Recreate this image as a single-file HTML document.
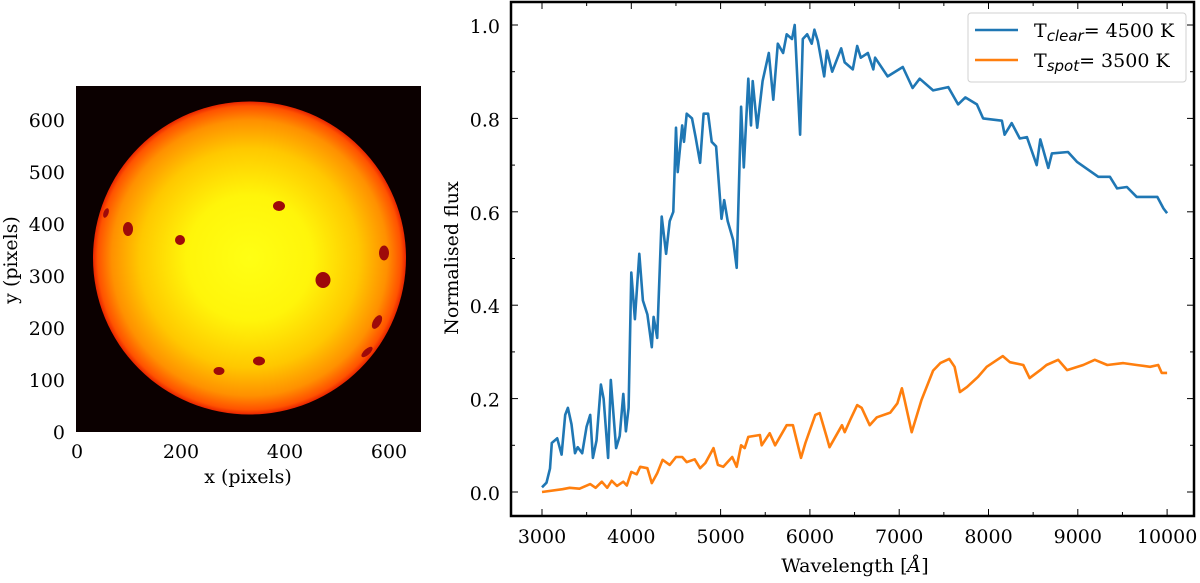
<!DOCTYPE html>
<html><head><meta charset="utf-8"><style>
body{margin:0;background:#fff;width:1200px;height:578px;overflow:hidden}
svg text{font-family:"DejaVu Serif","Liberation Serif",serif;fill:#000}
</style></head><body>
<svg width="1200" height="578" viewBox="0 0 1200 578">
<defs>
<radialGradient id="sun" cx="0.5" cy="0.5" r="0.5">
<stop offset="0" stop-color="#ffff14"/>
<stop offset="0.4" stop-color="#fff50a"/>
<stop offset="0.7" stop-color="#ffc800"/>
<stop offset="0.88" stop-color="#ff9000"/>
<stop offset="0.97" stop-color="#ff5200"/>
<stop offset="1" stop-color="#e82400"/>
</radialGradient>
</defs>
<g>
<rect x="76" y="86" width="345" height="346" fill="#0b0000"/>
<circle cx="249.5" cy="258" r="156.5" fill="url(#sun)"/>
<g fill="#9e0a0a">
<ellipse cx="106" cy="213" rx="2.5" ry="5" transform="rotate(20 106 213)"/>
<ellipse cx="128" cy="229" rx="5" ry="7"/>
<ellipse cx="180" cy="240" rx="5" ry="5"/>
<ellipse cx="279" cy="206" rx="6" ry="5"/>
<ellipse cx="384" cy="253" rx="5" ry="7.5"/>
<ellipse cx="323" cy="280" rx="7.5" ry="8"/>
<ellipse cx="377" cy="322" rx="4" ry="7.5" transform="rotate(30 377 322)"/>
<ellipse cx="367" cy="352" rx="3" ry="7" transform="rotate(48 367 352)"/>
<ellipse cx="259" cy="361" rx="6" ry="4.5"/>
<ellipse cx="219" cy="371" rx="5.5" ry="4"/>
</g>
<g font-size="19" text-anchor="end">
<text x="65" y="439">0</text><text x="65" y="387">100</text><text x="65" y="335">200</text><text x="65" y="283">300</text><text x="65" y="231">400</text><text x="65" y="179">500</text><text x="65" y="127">600</text>
</g>
<g font-size="19" text-anchor="middle">
<text x="77" y="458">0</text><text x="181" y="458">200</text><text x="285" y="458">400</text><text x="389" y="458">600</text>
</g>
<text x="248" y="483" font-size="19" text-anchor="middle">x (pixels)</text>
<text transform="translate(17 260) rotate(-90)" font-size="19" text-anchor="middle">y (pixels)</text>
</g>
<g id="spec">
<text x="855" y="572" font-size="19" text-anchor="middle">Wavelength [<tspan font-style="italic">Å</tspan>]</text>
<text transform="translate(458 258) rotate(-90)" font-size="19" text-anchor="middle">Normalised flux</text>
</g>
</svg>
<script>
const clearWl=[3000,3050,3090,3110,3170,3220,3260,3290,3330,3370,3400,3450,3500,3540,3570,3610,3660,3690,3740,3770,3830,3870,3910,3940,3970,4000,4040,4090,4130,4180,4230,4250,4290,4340,4390,4430,4470,4500,4520,4570,4590,4620,4680,4720,4770,4810,4860,4900,4950,5010,5040,5080,5140,5180,5230,5260,5310,5340,5360,5410,5470,5540,5590,5640,5700,5740,5800,5830,5890,5920,5970,6020,6050,6090,6160,6190,6250,6350,6390,6480,6530,6570,6650,6710,6730,6870,7040,7150,7230,7380,7550,7660,7740,7870,7940,8150,8180,8260,8350,8430,8540,8580,8670,8710,8890,8990,9230,9360,9440,9550,9660,9780,9890,9960,10000];
const clearFlux=[0.01,0.02,0.05,0.105,0.115,0.08,0.165,0.18,0.145,0.083,0.096,0.083,0.14,0.165,0.073,0.11,0.23,0.2,0.073,0.24,0.094,0.12,0.21,0.13,0.18,0.47,0.37,0.51,0.41,0.38,0.31,0.375,0.33,0.59,0.51,0.58,0.6,0.78,0.685,0.785,0.75,0.81,0.8,0.76,0.705,0.81,0.81,0.75,0.74,0.585,0.625,0.58,0.54,0.48,0.825,0.695,0.885,0.785,0.88,0.78,0.88,0.94,0.84,0.96,0.94,0.98,0.97,1.0,0.765,0.97,0.98,0.96,0.99,0.965,0.89,0.945,0.9,0.95,0.92,0.905,0.955,0.93,0.94,0.905,0.93,0.89,0.91,0.865,0.885,0.86,0.867,0.83,0.845,0.83,0.8,0.795,0.765,0.79,0.757,0.76,0.7,0.755,0.694,0.725,0.728,0.707,0.675,0.675,0.65,0.653,0.632,0.632,0.632,0.607,0.597];
const spotWl=[3000,3230,3310,3420,3540,3600,3670,3730,3780,3840,3910,3950,4000,4060,4100,4180,4230,4290,4350,4430,4500,4570,4620,4710,4770,4830,4920,4970,5030,5130,5180,5230,5270,5310,5440,5460,5550,5610,5740,5810,5900,5950,6060,6110,6190,6220,6360,6390,6450,6530,6580,6670,6750,6900,6980,7030,7060,7140,7250,7380,7460,7560,7620,7680,7760,7880,7980,8160,8240,8390,8460,8580,8650,8780,8880,9060,9190,9330,9510,9660,9810,9900,9940,10000];
const spotFlux=[0.0,0.006,0.009,0.007,0.017,0.009,0.022,0.009,0.024,0.013,0.022,0.014,0.043,0.038,0.054,0.051,0.019,0.04,0.069,0.058,0.075,0.075,0.064,0.07,0.051,0.062,0.094,0.058,0.054,0.075,0.054,0.1,0.094,0.118,0.122,0.1,0.126,0.1,0.143,0.143,0.073,0.105,0.165,0.169,0.116,0.096,0.143,0.128,0.154,0.186,0.18,0.143,0.16,0.17,0.19,0.222,0.197,0.128,0.197,0.26,0.276,0.285,0.268,0.214,0.225,0.246,0.268,0.291,0.278,0.272,0.244,0.261,0.272,0.283,0.261,0.272,0.283,0.272,0.276,0.272,0.268,0.272,0.255,0.255];
const xTicks=[3000,4000,5000,6000,7000,8000,9000,10000];
const yTicks=[0.0,0.2,0.4,0.6,0.8,1.0];
const yTickLabels=["0.0","0.2","0.4","0.6","0.8","1.0"];

const NS="http://www.w3.org/2000/svg";
const g=document.getElementById('spec');
const L=511,R=1194,T=2,B=516;
const X=w=>542+(w-3000)*0.0893;
const Y=f=>492-f*467;
function mk(tag,attrs,parent){const e=document.createElementNS(NS,tag);for(const k in attrs)e.setAttribute(k,attrs[k]);(parent||g).appendChild(e);return e;}
const tg=mk('g',{stroke:'#000','stroke-width':1});


for(let w=2500;w<=10500;w+=500){const x=X(w);if(x<L||x>R)continue;const len=(w%1000===0)?7:4;
mk('line',{x1:x,x2:x,y1:B,y2:B-len},tg);mk('line',{x1:x,x2:x,y1:T,y2:T+len},tg);}
for(let i=-1;i<=11;i++){const f=i/10;const y=Y(f);if(y<T||y>B)continue;const len=(i%2===0)?7:4;
mk('line',{x1:L,x2:L+len,y1:y,y2:y},tg);mk('line',{x1:R,x2:R-len,y1:y,y2:y},tg);}
xTicks.forEach(w=>{const t=mk('text',{x:X(w),y:543,'font-size':19,'text-anchor':'middle'});t.textContent=w;

});
yTicks.forEach((f,i)=>{const t=mk('text',{x:500,y:Y(f)+8,'font-size':19,'text-anchor':'end'});t.textContent=yTickLabels[i];

});
function line(ws,fs,color,name){const d=ws.map((w,i)=>(i?'L':'M')+X(w).toFixed(1)+' '+Y(fs[i]).toFixed(1)).join(' ');
const p=mk('path',{d:d,fill:'none',stroke:color,'stroke-width':2.6,'stroke-linejoin':'round'});

}
line(clearWl,clearFlux,'#1f77b4','clear-spectrum-line');
line(spotWl,spotFlux,'#ff7f0e','spot-spectrum-line');
const frame=mk('rect',{x:L,y:T,width:R-L,height:B-T,fill:'none',stroke:'#000','stroke-width':2.5});


const lg=mk('g',{});


mk('rect',{x:968,y:13,width:218,height:69,rx:3,fill:'#fff',stroke:'#d0d0d0','stroke-width':1},lg);
const entries=[['#1f77b4','clear','4500',30],['#ff7f0e','spot','3500',60]];
entries.forEach(e=>{const eg=mk('g',{},lg);


mk('line',{x1:975,x2:1018,y1:e[3],y2:e[3],stroke:e[0],'stroke-width':2.6},eg);
const t=mk('text',{x:1034,y:e[3]+7,'font-size':19},eg);
t.innerHTML='T<tspan font-family="DejaVu Sans" font-style="italic" font-size="15" dy="4">'+e[1]+'</tspan><tspan dy="-4">= '+e[2]+' K</tspan>';});
</script>
</body></html>
